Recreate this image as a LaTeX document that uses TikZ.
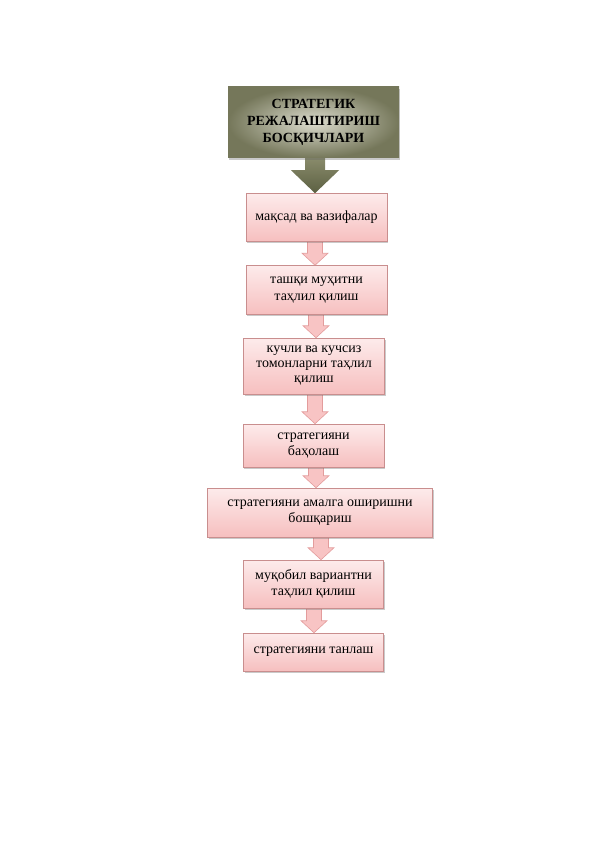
\documentclass[tikz,border=0pt]{standalone}
\usepackage{fontspec}
\setmainfont{Liberation Serif}
\usetikzlibrary{shadows,backgrounds,calc}
\definecolor{pinkT}{HTML}{FDEBEB}
\definecolor{pinkB}{HTML}{F6BFBF}
\definecolor{pinkD}{HTML}{C98E8E}
\definecolor{arrF}{HTML}{F8C4C4}
\definecolor{arrD}{HTML}{E39C9C}
\definecolor{oliveIn}{HTML}{DCDCCE}
\definecolor{oliveOut}{HTML}{75775A}
\definecolor{oliveTop}{HTML}{8A8C6C}
\definecolor{oliveBot}{HTML}{5C6042}
\newcommand\pinkdown[3]{%
  \begin{pgfonlayer}{background}
  \path[pinkarr] let \p1=(#1.south), \p2=(#2.north) in
    (#3pt-7.5pt,\y1+2pt) -- (#3pt+7.5pt,\y1+2pt) -- (#3pt+7.5pt,\y2+12pt)
    -- (#3pt+13pt,\y2+12pt) -- (#3pt,\y2) -- (#3pt-13pt,\y2+12pt)
    -- (#3pt-7.5pt,\y2+12pt) -- cycle;
  \end{pgfonlayer}}
\begin{document}
\begin{tikzpicture}[x=1pt,y=-1pt,
  stepbox/.style={draw=pinkD, line width=0.5pt, top color=pinkT, bottom color=pinkB,
    minimum width=141pt, inner sep=2pt, align=center,
    font=\fontsize{14}{16.5}\selectfont,
    drop shadow={shadow xshift=1.2pt,shadow yshift=-1.6pt,opacity=0.35,fill=black!60}},
  titlebox/.style={inner color=oliveIn, outer color=oliveOut, minimum width=171pt,
    minimum height=71pt, align=center, font=\fontsize{14}{17}\selectfont\bfseries,
    drop shadow={shadow xshift=1.2pt,shadow yshift=-1.6pt,opacity=0.35,fill=black!60}},
  pinkarr/.style={fill=arrF, draw=arrD, line width=0.6pt},
  olivearr/.style={top color=oliveTop, bottom color=oliveBot, draw=none}]
\useasboundingbox (0,0) rectangle (596,842);

\node[titlebox] (t) at (313.5,122.5) {СТРАТЕГИК\\РЕЖАЛАШТИРИШ\\БОСҚИЧЛАРИ};
\node[stepbox, minimum height=48pt] (b1) at (316.5,217.5) {мақсад ва вазифалар};
\node[stepbox, minimum height=49pt] (b2) at (316.5,290) {ташқи муҳитни\\таҳлил қилиш};
\node[stepbox, minimum height=56pt, font=\fontsize{14}{15}\selectfont] (b3) at (314,366) {кучли ва кучсиз\\томонларни таҳлил\\қилиш};
\node[stepbox, minimum height=43pt] (b4) at (313.5,445.5) {стратегияни\\баҳолаш};
\node[stepbox, minimum width=225pt, minimum height=49pt] (b5) at (320,512.5) {стратегияни амалга оширишни\\бошқариш};
\node[stepbox, minimum width=140pt, minimum height=48pt] (b6) at (313.5,584) {муқобил вариантни\\таҳлил қилиш};
\node[stepbox, minimum width=140pt, minimum height=38pt] (b7) at (313.5,652) {стратегияни танлаш};

\begin{pgfonlayer}{background}
\path[olivearr] let \p1=(t.south), \p2=(b1.north) in
  (315pt-10pt,\y1+1pt) -- (315pt+10pt,\y1+1pt) -- (315pt+10pt,\y2+23pt)
  -- (315pt+24pt,\y2+23pt) -- (315pt,\y2) -- (315pt-24pt,\y2+23pt)
  -- (315pt-10pt,\y2+23pt) -- cycle;
\end{pgfonlayer}
\pinkdown{b1}{b2}{315}
\pinkdown{b2}{b3}{316}
\pinkdown{b3}{b4}{315}
\pinkdown{b4}{b5}{316}
\pinkdown{b5}{b6}{321}
\pinkdown{b6}{b7}{314}
\end{tikzpicture}
\end{document}
